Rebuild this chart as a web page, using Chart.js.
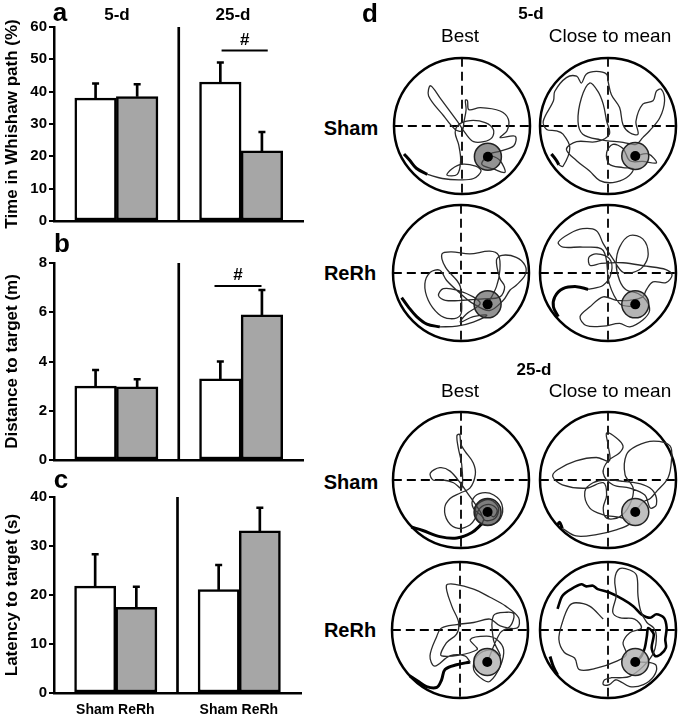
<!DOCTYPE html>
<html>
<head>
<meta charset="UTF-8">
<title>Whishaw path, distance and latency</title>
<script src="https://cdn.jsdelivr.net/npm/chart.js@4.4.1/dist/chart.umd.min.js"></script>
<style>
body { margin:0; background:#fff; font-family:"Liberation Sans", Arial, sans-serif; }
#fig { position:relative; width:683px; height:720px; overflow:hidden; background:#fff; }
#fig canvas { position:absolute; }
.lbl { position:absolute; transform:translate(-50%,-50%); white-space:nowrap; color:#000; line-height:1; }
.big { font-size:26px; font-weight:bold; }
.grp { font-size:17px; font-weight:bold; }
.col { font-size:19px; }
.row { font-size:20px; font-weight:bold; }
</style>
</head>
<body>
<div id="fig">
  <canvas id="cA" width="310" height="232" style="left:0;top:0;"></canvas>
  <canvas id="cB" width="310" height="238" style="left:0;top:233px;"></canvas>
  <canvas id="cC" width="310" height="254" style="left:0;top:466px;"></canvas>

  <canvas id="p1" width="150" height="150" style="left:387px;top:51px;"></canvas>
  <canvas id="p2" width="150" height="150" style="left:533px;top:51px;"></canvas>
  <canvas id="p3" width="150" height="150" style="left:386px;top:198px;"></canvas>
  <canvas id="p4" width="150" height="150" style="left:533px;top:198px;"></canvas>
  <canvas id="p5" width="150" height="150" style="left:386px;top:405px;"></canvas>
  <canvas id="p6" width="150" height="150" style="left:533px;top:405px;"></canvas>
  <canvas id="p7" width="150" height="150" style="left:385px;top:555px;"></canvas>
  <canvas id="p8" width="150" height="150" style="left:533px;top:555px;"></canvas>

  <div class="lbl big" style="left:60px;top:12px;">a</div>
  <div class="lbl grp" style="left:117px;top:14px;">5-d</div>
  <div class="lbl grp" style="left:233px;top:14px;">25-d</div>
  <div class="lbl big" style="left:62px;top:243px;">b</div>
  <div class="lbl big" style="left:61px;top:479px;">c</div>

  <div class="lbl big" style="left:370px;top:13px;">d</div>
  <div class="lbl grp" style="left:531px;top:13px;">5-d</div>
  <div class="lbl col" style="left:460px;top:35px;">Best</div>
  <div class="lbl col" style="left:610px;top:35px;">Close to mean</div>
  <div class="lbl row" style="left:351px;top:128px;">Sham</div>
  <div class="lbl row" style="left:350px;top:273px;">ReRh</div>
  <div class="lbl grp" style="left:534px;top:369px;">25-d</div>
  <div class="lbl col" style="left:460px;top:390px;">Best</div>
  <div class="lbl col" style="left:610px;top:390px;">Close to mean</div>
  <div class="lbl row" style="left:351px;top:482px;">Sham</div>
  <div class="lbl row" style="left:350px;top:630px;">ReRh</div>
</div>
<script>
Chart.defaults.font.family = '"Liberation Sans", Arial, sans-serif';
Chart.defaults.color = '#000';

// ---- panels a-c : Sham 5-d, ReRh 5-d, Sham 25-d, ReRh 25-d ----
var groups = ['Sham', 'ReRh', 'Sham', 'ReRh'];
var fills = ['#ffffff', '#a6a6a6', '#ffffff', '#a6a6a6'];
var whishawMean = [38.0, 38.5, 43.0, 21.7];
var whishawSem  = [4.5, 3.8, 6.0, 5.8];
var distMean = [3.0, 2.97, 3.3, 5.9];
var distSem  = [0.65, 0.31, 0.7, 1.0];
var latMean = [21.8, 17.5, 21.1, 33.1];
var latSem  = [6.5, 4.2, 5.0, 4.7];
// significance bars: [from slot, to slot, value]
var sigA = [4.03, 5.14, 52.7];
var sigB = [3.86, 4.99, 7.07];

// ---- panel d : swim paths, arena radius = 100, x right, y up ----
var platformAt = [[38,-45],[40,-44],[39,-46],[40,-46],[39,-47],[40,-47],[40,-47],[40,-47]];
var platformFill = ['rgba(80,80,80,0.62)','rgba(140,140,140,0.65)','rgba(80,80,80,0.62)','rgba(140,140,140,0.65)',
                    'rgba(65,65,65,0.68)','rgba(175,175,175,0.8)','rgba(175,175,175,0.8)','rgba(175,175,175,0.8)'];

var sham5BestStart = [[-85,-41],[-77,-50],[-67,-62],[-51,-71]];
var sham5Best = [[-51,-71],[-29,-77],[-5,-79],[17,-77],[28,-66],[20,-59],[0,-56],[-15,-63],[-22,-72],[-7,-71],
  [-2,-51],[-5,-27],[-10,-10],[-5,2],[12,8],[34,5],[46,-5],[44,-17],[32,-23],[17,-23],[6,-12],[-7,7],[-32,41],
  [-46,59],[-49,44],[-27,15],[-10,-5],[0,-7],[3,7],[6,24],[5,38],[8,37],[10,24],[27,27],[56,22],[68,10],[66,-7],
  [56,-17],[78,-15],[76,-29],[56,-37],[41,-41],[29,-56],[46,-63],[63,-68],[56,-51],[44,-44],[38,-45]];

var sham5MeanStart = [[-83,-41],[-76,-50],[-72,-57]];
var sham5Mean = [[-72,-57],[-66,-59],[-56,-32],[-66,-12],[-76,-7],[-90,-5],[-95,7],[-80,37],[-78,51],[-61,71],
  [-46,73],[-39,63],[-32,76],[-17,80],[-2,76],[0,66],[5,46],[17,27],[22,2],[32,-10],[44,-12],[41,7],[51,32],
  [66,37],[71,51],[78,54],[83,37],[76,12],[61,-7],[51,-17],[41,-27],[22,-24],[-12,-20],[-37,-12],[-44,7],
  [-39,41],[-27,63],[-15,51],[-7,32],[-2,7],[2,-12],[-17,-23],[-46,-23],[-61,-34],[-46,-51],[-27,-66],[-12,-80],
  [7,-83],[27,-76],[37,-63],[22,-61],[2,-56],[-2,-39],[7,-27],[22,-33],[32,-51],[51,-52],[71,-54],[59,-41],[40,-44]];

var rerh5BestStart = [[-87,-36],[-77,-50],[-65,-64],[-50,-75],[-31,-79]];
var rerh5Best = [[-31,-79],[-6,-78],[18,-72],[38,-62],[18,-64],[-1,-72],[8,-60],[28,-45],[18,-35],[-6,-25],
  [-26,-23],[-33,-33],[-23,-40],[3,-40],[33,-38],[57,-35],[64,-20],[57,-8],[52,19],[60,26],[81,23],[94,11],
  [94,-3],[81,-18],[72,-25],[62,-40],[42,-55],[18,-45],[-1,-30],[-21,-11],[-31,4],[-45,1],[-53,-16],[-48,-40],
  [-33,-60],[-16,-67],[-1,-62],[1,-45],[-1,-20],[-6,-11],[-23,9],[-28,28],[-14,31],[13,28],[42,32],[55,26],
  [57,4],[52,-20],[39,-46]];

var rerh5MeanStart = [[-73,-64],[-80,-50],[-78,-35],[-66,-23],[-46,-20],[-29,-24]];
var rerh5Mean = [[-29,-24],[-7,-18],[5,1],[2,21],[-17,28],[-28,23],[-26,11],[-10,14],[22,15],[56,10],[85,5],
  [94,-3],[85,-14],[66,-13],[56,-25],[51,-35],[32,-40],[12,-40],[-7,-35],[-27,-50],[-41,-64],[-32,-77],[-7,-78],
  [17,-74],[32,-79],[51,-69],[61,-55],[56,-40],[44,-30],[27,-25],[17,-11],[12,14],[17,38],[32,55],[51,50],
  [59,28],[51,9],[37,1],[22,1],[7,21],[-7,43],[-17,62],[-37,65],[-56,58],[-73,45],[-66,38],[-37,38],[-7,33],
  [2,-16],[17,-45],[32,-49],[40,-46]];

var sham25BestStart = [[-73,-69],[-56,-74],[-31,-83],[-6,-85],[16,-77],[31,-64]];
var sham25Best = [[31,-64],[33,-56],[18,-41],[18,-27],[31,-19],[48,-22],[60,-36],[58,-56],[43,-66],[26,-61],
  [21,-46],[26,-34],[43,-29],[55,-41],[50,-56],[35,-59],[28,-46],[8,-17],[1,-7],[-16,13],[-31,18],[-45,10],
  [-41,0],[-26,0],[-11,-4],[1,-12],[1,23],[-4,47],[-6,65],[-2,67],[0,52],[6,42],[18,25],[21,8],[13,-12],
  [-1,-19],[-16,-27],[-24,-41],[-19,-61],[-4,-71],[13,-66],[21,-56],[28,-41],[43,-36],[53,-44],[48,-54],[39,-47]];

var sham25MeanStart = [[-75,-67],[-71,-62],[-67,-71]];
var sham25Mean = [[-67,-71],[-47,-82],[-17,-80],[12,-73],[32,-64],[22,-56],[-7,-51],[-27,-41],[-34,-17],
  [-22,-4],[-2,0],[22,-2],[52,-7],[67,-17],[71,-36],[62,-41],[54,-22],[32,-12],[7,-7],[-7,10],[0,28],[17,40],
  [22,50],[12,62],[-2,69],[0,52],[2,28],[-17,33],[-47,28],[-74,15],[-81,5],[-67,-7],[-32,-12],[-7,-4],[-2,-22],
  [-7,-41],[-2,-56],[17,-54],[32,-36],[37,-12],[25,8],[27,37],[42,50],[67,57],[91,50],[93,28],[88,3],[71,-17],
  [62,-27],[52,-32],[44,-41],[40,-47]];

var rerh25BestStart = [[-74,-67],[-62,-75],[-49,-83],[-34,-84],[-27,-73],[-22,-58],[-5,-51],[15,-47]];
var rerh25Best = [[15,-47],[7,-38],[-15,-38],[-37,-53],[-44,-38],[-34,-9],[-27,3],[-5,8],[20,11],[44,16],
  [59,6],[84,3],[86,18],[67,35],[44,48],[20,60],[-7,67],[-20,65],[-12,35],[-2,11],[-5,-6],[-20,-19],[-27,-38],
  [25,-29],[15,-14],[39,-9],[54,-14],[64,-29],[59,-53],[44,-75],[34,-73],[20,-58],[25,-38],[44,-29],[59,-38],
  [49,-14],[49,21],[69,26],[79,23],[74,6],[59,-4],[40,-47]];

var rerh25MeanStart = [[-74,-66],[-80,-54],[-85,-39]];
var rerh25MeanWall = [[-74,31],[-67,50],[-54,60],[-39,67],[-32,64],[-22,65],[-15,60],[2,55],[22,45],[37,35],
  [49,23],[62,18],[71,23],[82,18],[86,3],[84,-14],[85,-26],[77,-36],[69,-38],[64,-26],[67,-6],[59,3],[57,-9],
  [54,-26],[49,-38],[40,-47]];
var rerh25Mean = [[-7,16],[-27,35],[-47,40],[-57,35],[-67,11],[-72,-14],[-64,-33],[-49,-41],[-42,-58],[-17,-56],
  [12,-46],[27,-36],[22,-19],[32,-4],[49,3],[39,16],[17,18],[7,26],[12,50],[10,75],[17,90],[32,88],[42,80],
  [44,50],[48,28],[57,11],[67,3],[71,-9],[67,-33],[52,-53],[32,-68],[17,-70],[5,-70],[-5,-73],[-7,-80],[2,-80],
  [12,-73],[32,-83],[52,-80],[67,-68],[71,-53],[62,-48],[40,-47]];

var sigPlugin = {
  id: 'sig',
  afterDatasetsDraw: function (chart, args, opts) {
    if (!opts.bar) return;
    var x = chart.scales.x, y = chart.scales.y, ctx = chart.ctx;
    var x0 = x.getPixelForValue(opts.bar[0]), x1 = x.getPixelForValue(opts.bar[1]);
    var yy = y.getPixelForValue(opts.bar[2]);
    ctx.save();
    ctx.strokeStyle = '#000';
    ctx.lineWidth = 2;
    ctx.beginPath(); ctx.moveTo(x0, yy); ctx.lineTo(x1, yy); ctx.stroke();
    ctx.fillStyle = '#000';
    ctx.font = 'bold 17px "Liberation Sans", Arial, sans-serif';
    ctx.textAlign = 'center'; ctx.textBaseline = 'bottom';
    ctx.fillText('#', (x0 + x1) / 2, yy - 2);
    ctx.restore();
  }
};

function slots(arr) { return [null, arr[0], arr[1], null, arr[2], arr[3], null]; }

function makeBars(id, mean, sem, yMax, step, title, sig, showX, padTop, xH) {
  var tops = mean.map(function (m, i) { return m + sem[i]; });
  var errs = mean.map(function (m, i) { return [m, tops[i]]; });
  new Chart(document.getElementById(id), {
    type: 'bar',
    data: {
      labels: [''].concat(groups.slice(0, 2), [''], groups.slice(2), ['']),
      datasets: [
        { data: slots(mean), backgroundColor: slots(fills), borderColor: '#000', borderWidth: 2.5,
          borderSkipped: false, barPercentage: 1, categoryPercentage: 1, grouped: false, order: 3 },
        { data: slots(errs), backgroundColor: '#000', barThickness: 2, grouped: false, order: 2 },
        { type: 'line', data: slots(tops), showLine: false, pointStyle: 'line', pointRadius: 3.5,
          borderColor: '#000', borderWidth: 2.5, order: 1 },
        { data: [null, null, null, [0, yMax], null, null, null], backgroundColor: '#000',
          barThickness: 2, grouped: false, order: 4 }
      ]
    },
    options: {
      responsive: false, animation: false, events: [],
      layout: { padding: { top: padTop, right: 6, left: 0, bottom: 0 } },
      plugins: { legend: { display: false }, tooltip: { enabled: false }, sig: { bar: sig } },
      scales: {
        x: {
          offset: false,
          grid: { display: false, drawTicks: false },
          border: { display: true, color: '#000', width: 2.5 },
          ticks: { display: showX, padding: 9, autoSkip: false, maxRotation: 0,
                   font: { size: 14, weight: 'bold' } },
          afterFit: function (s) { s.height = xH; }
        },
        y: {
          min: 0, max: yMax,
          grid: { drawOnChartArea: false, drawTicks: true, tickLength: 5, color: '#000', lineWidth: 2 },
          border: { display: true, color: '#000', width: 2.5 },
          ticks: { stepSize: step, padding: 2, font: { size: 15, weight: 'bold' } },
          title: { display: true, text: title, padding: { top: 2, bottom: 0 },
                   font: { size: 17, weight: 'bold' } },
          afterFit: function (s) { s.width = 54; }
        }
      }
    },
    plugins: [sigPlugin]
  });
}

makeBars('cA', whishawMean, whishawSem, 60, 10, 'Time in Whishaw path (%)', sigA, false, 27, 9);
makeBars('cB', distMean, distSem, 8, 2, 'Distance to target (m)', sigB, false, 30, 9);
makeBars('cC', latMean, latSem, 40, 10, 'Latency to target (s)', null, true, 31, 27);

function xy(list) { return list.map(function (p) { return { x: p[0], y: p[1] }; }); }

function makeArena(id, k, start, path, extra) {
  var pf = xy([platformAt[k]]);
  var ds = [
    { data: pf, pointRadius: 5, backgroundColor: '#000', borderWidth: 0, order: 0 },
    { data: pf, pointRadius: 13.5, backgroundColor: platformFill[k], borderColor: '#222',
      borderWidth: 1.5, order: 1 },
    { data: xy(path), showLine: true, pointRadius: 0, borderColor: '#2a2a2a', borderWidth: 1.3,
      tension: 0.35, order: 2 },
    { data: xy(start), showLine: true, pointRadius: 0, borderColor: '#000', borderWidth: 3,
      tension: 0.35, order: 2 },
    { data: xy([[-100, 0], [100, 0]]), showLine: true, pointRadius: 0, borderColor: '#000',
      borderWidth: 1.8, borderDash: [9, 5], order: 3 },
    { data: xy([[0, 100], [0, -100]]), showLine: true, pointRadius: 0, borderColor: '#000',
      borderWidth: 1.8, borderDash: [9, 5], order: 3 },
    { data: xy([[0, 0]]), pointRadius: 68, backgroundColor: 'rgba(0,0,0,0)', borderColor: '#000',
      borderWidth: 2.5, order: 4 }
  ];
  if (extra) {
    ds.push({ data: xy(extra), showLine: true, pointRadius: 0, borderColor: '#000', borderWidth: 2.6,
              tension: 0.3, order: 2 });
  }
  ds.forEach(function (d) { d.clip = false; });
  new Chart(document.getElementById(id), {
    type: 'scatter',
    data: { datasets: ds },
    options: {
      responsive: false, animation: false, events: [],
      // big arena marker must not shrink the plot area
      layout: { padding: 0, autoPadding: false },
      plugins: { legend: { display: false }, tooltip: { enabled: false } },
      scales: {
        x: { type: 'linear', display: false, min: -110, max: 110 },
        y: { type: 'linear', display: false, min: -110, max: 110 }
      }
    }
  });
}

makeArena('p1', 0, sham5BestStart, sham5Best);
makeArena('p2', 1, sham5MeanStart, sham5Mean);
makeArena('p3', 2, rerh5BestStart, rerh5Best);
makeArena('p4', 3, rerh5MeanStart, rerh5Mean);
makeArena('p5', 4, sham25BestStart, sham25Best);
makeArena('p6', 5, sham25MeanStart, sham25Mean);
makeArena('p7', 6, rerh25BestStart, rerh25Best);
makeArena('p8', 7, rerh25MeanStart, rerh25Mean, rerh25MeanWall);
</script>
</body>
</html>
